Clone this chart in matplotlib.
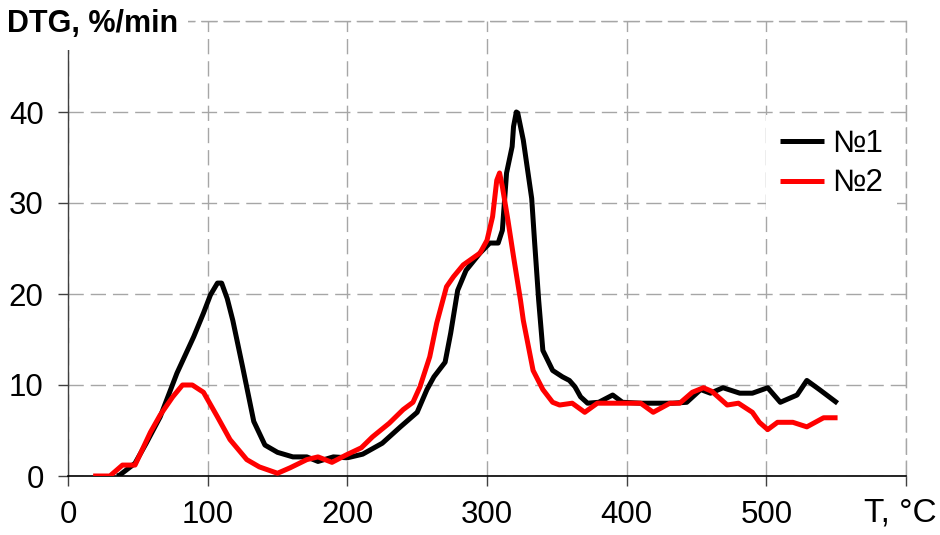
import matplotlib
matplotlib.use('Agg')
import matplotlib.pyplot as plt
from matplotlib.patches import Rectangle

plt.rcParams['font.family'] = ['Liberation Sans', 'DejaVu Sans']

# Sample №1 (black)
T1 = [35, 37, 48, 56, 66, 78, 90, 97, 102, 107, 110, 114, 118, 125, 133, 137, 141, 150, 161, 171,
      179, 190, 200, 211, 225, 238, 250, 257, 262, 270, 274, 279, 285, 295, 302, 308, 311, 314, 318, 319,
      321, 322, 326, 332, 334, 337, 340, 347, 354, 359, 363, 367, 372, 380, 390, 397, 410, 422, 433, 443,
      453, 460, 469, 481, 490, 501, 510, 522, 529, 538, 551]
dtg1 = [0, 0.1, 1.4, 3.6, 6.5, 11.3, 15.3, 17.9, 19.9, 21.2, 21.2, 19.5, 17.1, 12.0, 6.0, 4.7, 3.4, 2.6, 2.1, 2.1,
        1.6, 2.1, 2.0, 2.4, 3.6, 5.4, 7.0, 9.5, 10.9, 12.5, 15.7, 20.4, 22.6, 24.5, 25.6, 25.6, 27.0, 33.3, 36.2, 38.4,
        40.0, 39.9, 36.9, 30.5, 25.9, 19.3, 13.8, 11.6, 10.9, 10.5, 9.8, 8.7, 8.0, 8.1, 8.9, 8.1, 8.0, 8.0, 8.0, 8.1,
        9.5, 9.1, 9.7, 9.1, 9.1, 9.7, 8.1, 8.9, 10.5, 9.5, 8.0]

# Sample №2 (red)
T2 = [18, 30, 39, 48, 59, 66, 75, 82, 89, 97, 107, 116, 128, 137, 150, 159, 171, 179, 189, 199,
      210, 218, 230, 240, 247, 252, 259, 264, 271, 276, 283, 295, 300, 304, 307, 309, 311, 315, 319, 324,
      326, 333, 340, 347, 352, 361, 370, 379, 397, 410, 419, 431, 438, 447, 455, 461, 472, 480, 490, 495,
      501, 508, 519, 529, 541, 551]
dtg2 = [0, 0, 1.2, 1.2, 4.8, 6.7, 8.7, 10.0, 10.0, 9.2, 6.5, 4.0, 1.8, 1.0, 0.3, 0.9, 1.8, 2.1, 1.5, 2.3,
        3.1, 4.3, 5.8, 7.3, 8.1, 9.8, 13.1, 16.8, 20.8, 21.9, 23.2, 24.5, 25.9, 28.5, 32.5, 33.3, 31.8, 28.1, 24.1, 19.3,
        17.1, 11.6, 9.5, 8.1, 7.8, 8.0, 7.0, 8.0, 8.0, 8.0, 7.0, 8.0, 8.0, 9.2, 9.7, 9.3, 7.8, 8.0, 7.0, 5.9,
        5.1, 5.9, 5.9, 5.4, 6.4, 6.4]

labels = ['№1', '№2']
xticks = [0, 100, 200, 300, 400, 500, 600]
xticklabels = ['0', '100', '200', '300', '400', '500', '']
yticks = [0, 10, 20, 30, 40, 50]
yticklabels = ['0', '10', '20', '30', '40', '']

fs = 22.5
W, H = 940, 535
fig = plt.figure(figsize=(W / 100, H / 100), dpi=100)
ax = fig.add_axes([68 / W, 59 / H, 838 / W, 455 / H])

ax.plot(T1, dtg1, color='black', lw=3.6, solid_joinstyle='round', solid_capstyle='butt',
        label=labels[0], zorder=3)
ax.plot(T2, dtg2, color='#ff0000', lw=3.6, solid_joinstyle='round', solid_capstyle='butt',
        label=labels[1], zorder=4)

ax.set_xlim(0, 600)
ax.set_ylim(0, 50)
ax.set_xticks(xticks)
ax.set_xticklabels(xticklabels)
ax.set_yticks(yticks)
ax.set_yticklabels(yticklabels)

# grid
ax.grid(True, color='#a6a6a6', lw=1, linestyle=(0, (11, 5)))
ax.set_axisbelow(True)
for s in ['top', 'right']:
    ax.spines[s].set_color('#a6a6a6')
    ax.spines[s].set_linestyle((0, (11, 5)))
    ax.spines[s].set_linewidth(1)
ax.spines['left'].set_color('#404040')
ax.spines['left'].set_linewidth(1)
ax.spines['bottom'].set_color('black')
ax.spines['bottom'].set_linewidth(1.2)

ax.tick_params(axis='both', direction='out', length=7.5, width=1, color='#404040', labelsize=fs)
ax.tick_params(axis='x', pad=9.5)
ax.tick_params(axis='y', pad=10)

leg = ax.legend(loc='upper right', bbox_to_anchor=(897 / W, (H - 115) / H), bbox_transform=fig.transFigure,
                borderaxespad=0, borderpad=0.45, frameon=True, fancybox=False, framealpha=1,
                edgecolor='none', facecolor='white', fontsize=fs, handlelength=1.4,
                handletextpad=0.25, labelspacing=0.3)
leg.set_zorder(5)

# axis captions with white background at the ends of the axes
box = Rectangle((0, (H - 50) / H), 188 / W, 50 / H, transform=fig.transFigure, facecolor='white',
                edgecolor='none', zorder=2)
fig.patches.append(box)
fig.text(7 / W, (H - 32) / H, 'DTG, %/min', fontsize=22, fontweight='bold', va='baseline', ha='left', zorder=3)
fig.text(864 / W, (H - 522) / H, 'T, °C', fontsize=24, va='baseline', ha='left', zorder=3)

fig.savefig('out.png', dpi=100)
